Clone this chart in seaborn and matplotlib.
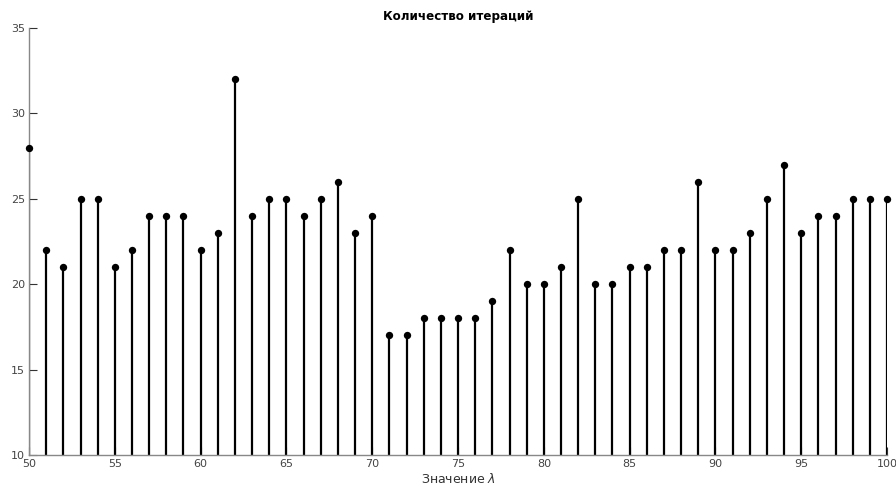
import numpy as np
import pandas as pd
import matplotlib
matplotlib.use("Agg")
import matplotlib.pyplot as plt
import seaborn as sns

lam = list(range(50, 101))
iterations = [28, 22, 21, 25, 25, 21, 22, 24, 24, 24,
              22, 23, 32, 24, 25, 25, 24, 25, 26, 23,
              24, 17, 17, 18, 18, 18, 18, 19, 22, 20,
              20, 21, 25, 20, 20, 21, 21, 22, 22, 26,
              22, 22, 23, 25, 27, 23, 24, 24, 25, 25,
              25]
x_ticks = [50, 55, 60, 65, 70, 75, 80, 85, 90, 95, 100]
y_ticks = [10, 15, 20, 25, 30, 35]

df = pd.DataFrame({"lam": lam, "it": iterations})

sns.set_theme(style="ticks")
plt.rcParams["font.family"] = ["DejaVu Sans"]

fig = plt.figure(figsize=(8.96, 4.9), dpi=100)
ax = fig.add_axes([0.0324, 0.0714, 0.9576, 0.8714])

# stems from the baseline up to each value, with a dot on top
ax.vlines(df["lam"], 10, df["it"], color="black", linewidth=1.6, zorder=2)
sns.scatterplot(data=df, x="lam", y="it", ax=ax, color="black", s=28,
                edgecolor="black", linewidth=0, zorder=3, clip_on=False)

ax.set_xlim(50, 100)
ax.set_ylim(10, 35)
ax.set_xticks(x_ticks)
ax.set_yticks(y_ticks)
ax.tick_params(direction="in", length=6, width=0.8, color="#333333",
               labelsize=8, labelcolor="#444444", pad=3)
for side in ["top", "right"]:
    ax.spines[side].set_visible(False)
for side in ["left", "bottom"]:
    ax.spines[side].set_color("#888888")
    ax.spines[side].set_linewidth(1.0)

ax.set_xlabel("Значение $\\lambda$", fontsize=9, color="#333333", labelpad=2)
ax.set_ylabel("")
ax.set_title("Количество итераций", fontsize=8.6, fontweight="bold",
             color="black", pad=6)

fig.savefig("out.png", dpi=100)
